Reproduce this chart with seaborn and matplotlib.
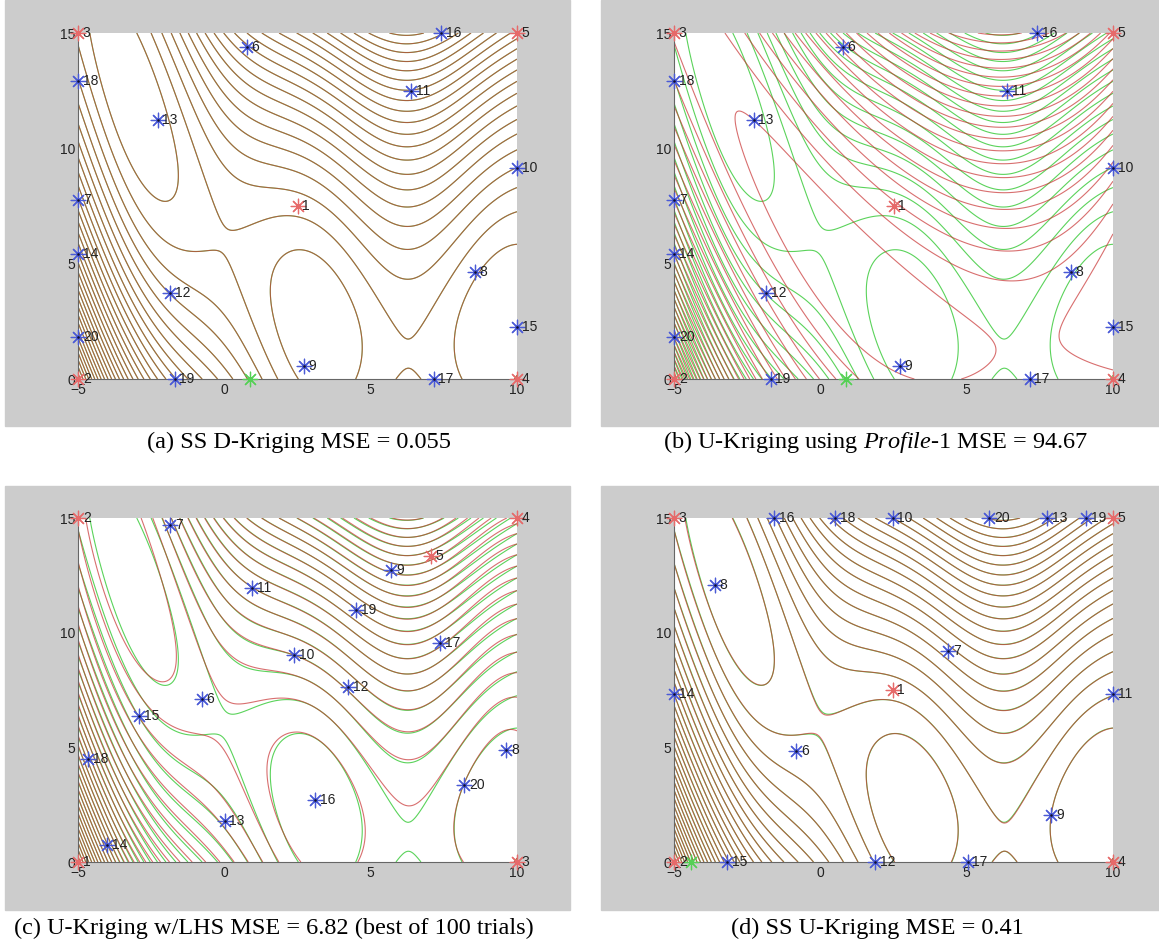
import numpy as np
import pandas as pd
import matplotlib.pyplot as plt
import seaborn as sns
from matplotlib.patches import Rectangle

sns.set_style('white')
plt.rcParams['font.family'] = ['Liberation Sans', 'DejaVu Sans']
plt.rcParams['mathtext.fontset'] = 'custom'
plt.rcParams['mathtext.rm'] = 'Liberation Serif'
plt.rcParams['mathtext.it'] = 'Liberation Serif:italic'

# Sample points (point number = position in list + 1)
ab_x = [2.5, -5, -5, 10, 10, 0.77, -5, 8.56, 2.72, 10, 6.39, -1.86, -2.28, -5, 10, 7.42, 7.15, -5, -1.70, -5]
ab_y = [7.5, 0, 15, 0, 15, 14.38, 7.77, 4.66, 0.56, 9.14, 12.47, 3.75, 11.24, 5.42, 2.27, 15, 0, 12.9, 0, 1.81]
c_x = [-5, -5, 10, 10, 7.06, -0.78, -1.84, 9.63, 5.71, 2.38, 0.96, 4.22, 0.01, -4.01, -2.90, 3.11, 7.38, -4.67, 4.49, 8.20]
c_y = [0, 15, 0, 15, 13.33, 7.09, 14.68, 4.89, 12.75, 9.02, 11.93, 7.62, 1.80, 0.75, 6.37, 2.71, 9.53, 4.48, 10.98, 3.37]
d_x = [2.47, -5, -5, 10, 10, -0.82, 4.37, -3.61, 7.89, 2.47, 10, 1.87, 7.75, -5, -3.20, -1.58, 5.03, 0.51, 9.09, 5.76]
d_y = [7.5, 0, 15, 0, 15, 4.82, 9.20, 12.07, 2.06, 15, 7.33, 0, 15, 7.33, 0, 15, 0, 15, 15, 15]
# green marker on the bottom edge
green_x = {'a': [0.86], 'b': [0.86], 'c': [], 'd': [-4.41]}
n_initial = 5   # first five points are the initial (red) design

captions = {
    'a': '(a) SS D-Kriging MSE = 0.055',
    'b': '(b) U-Kriging using $\\mathit{Profile}$-$\\mathit{1}$ MSE = 94.67',
    'c': '(c) U-Kriging w/LHS MSE = 6.82 (best of 100 trials)',
    'd': '(d) SS U-Kriging MSE = 0.41',
}
levels = np.arange(10, 310, 10)


def branin(x, y):
    b, c = 5.1 / (4 * np.pi ** 2), 5 / np.pi
    return (y - b * x ** 2 + c * x - 6) ** 2 + 10 * (1 - 1 / (8 * np.pi)) * np.cos(x) + 10


def basis(u, trend):
    x, y = u[:, 0], u[:, 1]
    one = np.ones(len(u))
    cols = [one, x, y, x ** 2, x * y, y ** 2]
    if trend in ('quartic', 'dynamic'):
        cols += [x ** 3, x ** 2 * y, x ** 4]
    if trend == 'dynamic':
        cols += [np.cos(15 * x - 5)]
    return np.column_stack(cols)


def kriging(px, py, trend, gx, gy, trend_only=False):
    pts = np.column_stack([(np.asarray(px) + 5) / 15, np.asarray(py) / 15])
    z = branin(np.asarray(px), np.asarray(py))
    grid = np.column_stack([(gx.ravel() + 5) / 15, gy.ravel() / 15])
    F = basis(pts, trend)
    Fg = basis(grid, trend)
    if trend_only:
        beta = np.linalg.lstsq(F, z, rcond=None)[0]
        return (Fg @ beta).reshape(gx.shape)
    n = len(z)
    d = (pts[:, None, :] - pts[None, :, :]) ** 2
    best = None
    for t1 in np.logspace(-1.5, 2.5, 33):
        for t2 in np.logspace(-1.5, 2.5, 33):
            R = np.exp(-(t1 * d[..., 0] + t2 * d[..., 1])) + 1e-8 * np.eye(n)
            try:
                L = np.linalg.cholesky(R)
                Ri = np.linalg.inv(R)
                beta = np.linalg.solve(F.T @ Ri @ F, F.T @ Ri @ z)
            except np.linalg.LinAlgError:
                continue
            res = z - F @ beta
            s2 = res @ Ri @ res / n
            if not np.isfinite(s2) or s2 <= 0:
                continue
            ll = -0.5 * n * np.log(s2) - np.sum(np.log(np.diag(L)))
            if best is None or ll > best[0]:
                best = (ll, t1, t2, beta, Ri @ res)
    _, t1, t2, beta, w = best
    r = np.exp(-(t1 * (grid[:, None, 0] - pts[None, :, 0]) ** 2
                 + t2 * (grid[:, None, 1] - pts[None, :, 1]) ** 2))
    return (Fg @ beta + r @ w).reshape(gx.shape)


gx, gy = np.meshgrid(np.linspace(-5, 10, 301), np.linspace(0, 15, 301))
truth = branin(gx, gy)

W, H = 1159, 941
fig = plt.figure(figsize=(W / 100, H / 100), dpi=100, facecolor='white')

# panel layout in pixels: gray box, axes box, caption centre
panels = {
    'a': dict(gray=(5, 0, 570, 426), ax=(78, 33, 517, 379), cap=(299, 442), pts=(ab_x, ab_y),
              trend='dynamic', only=True),
    'b': dict(gray=(601, 0, 1159, 426), ax=(674, 33, 1113, 379), cap=(876, 442), pts=(ab_x, ab_y),
              trend='quartic', only=True),
    'c': dict(gray=(5, 486, 570, 910), ax=(78, 518, 517, 862), cap=(274, 928), pts=(c_x, c_y),
              trend='quad', only=False),
    'd': dict(gray=(601, 486, 1159, 910), ax=(674, 518, 1113, 862), cap=(877, 928), pts=(d_x, d_y),
              trend='quartic', only=False),
}

for key, p in panels.items():
    x0, y0, x1, y1 = p['gray']
    fig.add_artist(Rectangle((x0 / W, 1 - y1 / H), (x1 - x0) / W, (y1 - y0) / H,
                             transform=fig.transFigure, color='#cccccc', zorder=0))
    x0, y0, x1, y1 = p['ax']
    ax = fig.add_axes([x0 / W, 1 - y1 / H, (x1 - x0) / W, (y1 - y0) / H])
    ax.set_facecolor('white')

    px, py = p['pts']
    model = kriging(px, py, p['trend'], gx, gy, trend_only=p['only'])
    ax.contour(gx, gy, truth, levels=levels, colors='#5bd35b', linewidths=0.8)
    ax.contour(gx, gy, model, levels=levels, colors='#c83232', linewidths=0.8, alpha=0.7)

    df = pd.DataFrame({'x': px, 'y': py, 'n': np.arange(1, len(px) + 1)})
    init = df[df['n'] <= n_initial]
    added = df[df['n'] > n_initial]
    sns.scatterplot(data=init, x='x', y='y', ax=ax, marker=(8, 2, 0), s=110,
                    color='#e66a6a', linewidth=0.9, legend=False, zorder=5, clip_on=False)
    sns.scatterplot(data=added, x='x', y='y', ax=ax, marker=(8, 2, 0), s=110,
                    color='#4a5ad6', linewidth=0.9, legend=False, zorder=5, clip_on=False)
    sns.scatterplot(data=added, x='x', y='y', ax=ax, marker='.', s=14,
                    color='#101030', linewidth=0, legend=False, zorder=6, clip_on=False)
    if green_x[key]:
        sns.scatterplot(x=green_x[key], y=[0] * len(green_x[key]), ax=ax, marker=(8, 2, 0), s=110,
                        color='#55d055', linewidth=0.9, legend=False, zorder=5, clip_on=False)
    for _, row in df.iterrows():
        ax.annotate(str(int(row['n'])), (row['x'], row['y']), xytext=(3.5, 0),
                    textcoords='offset points', va='center', ha='left',
                    fontsize=10, color='#222222', zorder=7, annotation_clip=False)

    ax.set_xlim(-5, 10)
    ax.set_ylim(0, 15)
    ax.set_xticks([-5, 0, 5, 10])
    ax.set_yticks([0, 5, 10, 15])
    ax.set_xlabel('')
    ax.set_ylabel('')
    ax.tick_params(direction='in', length=4, width=0.7, color='#555555',
                   labelsize=10, pad=2, labelcolor='#222222')
    ax.tick_params(axis='x', pad=3)
    for side in ['top', 'right']:
        ax.spines[side].set_visible(False)
    for side in ['left', 'bottom']:
        ax.spines[side].set_color('#666666')
        ax.spines[side].set_linewidth(0.8)

    cx, cy = p['cap']
    fig.text(cx / W, 1 - cy / H, captions[key], ha='center', va='center',
             fontsize=17.5, family='Liberation Serif', color='black')

fig.savefig('out.png', dpi=100, facecolor='white')
